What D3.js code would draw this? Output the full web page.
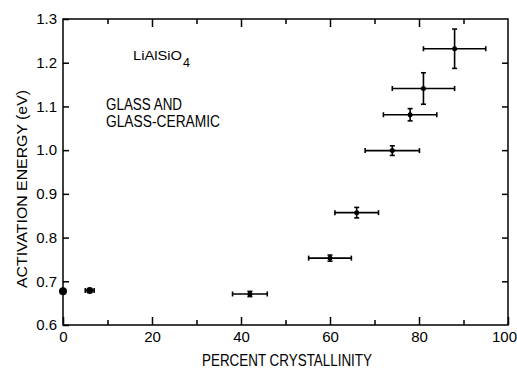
<!DOCTYPE html>
<html>
<head>
<meta charset="utf-8">
<script src="https://cdn.jsdelivr.net/npm/d3@7"></script>
<style>
    body { margin: 0; background: #fff; }
    svg text { font-family: "Liberation Sans", Arial, sans-serif; fill: #000; }
    .axis path { display: none; }
    .axis line { stroke: #000; stroke-width: 1.5; }
    .axis text { font-size: 15px; font-family: "Liberation Sans", Arial, sans-serif; }
</style>
</head>
<body>
<div id="chart"></div>
<script>
// data
let crystallinity = [0, 6, 42, 60, 66, 74, 78, 81, 88];
let energy = [0.677, 0.679, 0.671, 0.753, 0.857, 0.999, 1.081, 1.141, 1.232];
let xErr = [0, 1, 3.9, 4.8, 4.9, 6.1, 6, 7, 7];
let yErr = [0, 0.004, 0.006, 0.007, 0.012, 0.011, 0.014, 0.036, 0.045];

let xMajor = [0, 20, 40, 60, 80, 100];
let xMinor = [10, 30, 50, 70, 90];
let yTicks = [0.6, 0.7, 0.8, 0.9, 1.0, 1.1, 1.2, 1.3];

let points = crystallinity.map((c, i) => ({x: c, y: energy[i], ex: xErr[i], ey: yErr[i]}));

let margin = {top: 19, right: 9, bottom: 45, left: 63};
let W = 517, H = 370;
let width = W - margin.left - margin.right;
let height = H - margin.top - margin.bottom;

let svg = d3.select("#chart").append("svg")
    .attr("width", W)
    .attr("height", H);

let g = svg.append("g")
    .attr("transform", `translate(${margin.left}, ${margin.top})`);

let x = d3.scaleLinear().domain([0, 100]).range([0, width]);
let y = d3.scaleLinear().domain([0.6, 1.3]).range([height, 0]);

// frame
g.append("rect")
    .attr("width", width)
    .attr("height", height)
    .attr("fill", "none")
    .attr("stroke", "#000")
    .attr("stroke-width", 1.5);

// bottom axis, ticks pointing in
let xAxisG = g.append("g").attr("class", "axis")
    .attr("transform", `translate(0, ${height})`)
    .call(d3.axisBottom(x).tickValues(xMajor).tickSize(-8).tickPadding(6).tickFormat(d3.format("d")));
// last label sits on the page edge, pull it in a little
xAxisG.selectAll(".tick text").filter(d => d === 100).attr("dx", -4);

g.append("g").attr("class", "axis")
    .attr("transform", `translate(0, ${height})`)
    .call(d3.axisBottom(x).tickValues(xMinor).tickSize(-5).tickFormat(""));

// top axis
g.append("g").attr("class", "axis")
    .call(d3.axisTop(x).tickValues(xMajor.slice(1, -1)).tickSize(-8).tickFormat(""));
g.append("g").attr("class", "axis")
    .call(d3.axisTop(x).tickValues(xMinor).tickSize(-5).tickFormat(""));

// left + right axes
g.append("g").attr("class", "axis")
    .call(d3.axisLeft(y).tickValues(yTicks).tickSize(-6).tickPadding(6).tickFormat(d3.format(".1f")));
g.append("g").attr("class", "axis")
    .attr("transform", `translate(${width}, 0)`)
    .call(d3.axisRight(y).tickValues(yTicks.slice(1, -1)).tickSize(-6).tickFormat(""));

// error bars
let bars = g.append("g").attr("class", "errorbars")
    .attr("stroke", "#000")
    .attr("stroke-width", 1.6)
    .selectAll("g")
    .data(points.filter(d => d.ex > 0))
    .enter().append("g");

bars.append("line")
    .attr("x1", d => x(d.x - d.ex)).attr("x2", d => x(d.x + d.ex))
    .attr("y1", d => y(d.y)).attr("y2", d => y(d.y));
bars.append("line")
    .attr("x1", d => x(d.x)).attr("x2", d => x(d.x))
    .attr("y1", d => y(d.y - d.ey)).attr("y2", d => y(d.y + d.ey));

let cap = 2.5;
bars.selectAll(".hcap")
    .data(d => [d.x - d.ex, d.x + d.ex].map(v => ({v: v, y: d.y})))
    .enter().append("line")
    .attr("x1", d => x(d.v)).attr("x2", d => x(d.v))
    .attr("y1", d => y(d.y) - cap).attr("y2", d => y(d.y) + cap);
bars.selectAll(".vcap")
    .data(d => [d.y - d.ey, d.y + d.ey].map(v => ({v: v, x: d.x})))
    .enter().append("line")
    .attr("x1", d => x(d.x) - cap).attr("x2", d => x(d.x) + cap)
    .attr("y1", d => y(d.v)).attr("y2", d => y(d.v));

// markers
g.selectAll(".dot")
    .data(points)
    .enter().append("circle")
    .attr("class", "dot")
    .attr("cx", d => x(d.x))
    .attr("cy", d => y(d.y))
    .attr("r", (d, i) => i === 0 ? 4 : (i === 1 ? 3.5 : 2.5))
    .attr("fill", "#000");

// annotations (widths forced to match the condensed typeface of the original)
let formula = svg.append("text")
    .attr("x", 133)
    .attr("y", 60)
    .style("font-size", "12.5px");
formula.append("tspan").attr("textLength", 49).attr("lengthAdjust", "spacingAndGlyphs").text("LiAlSiO");
formula.append("tspan").attr("x", 183).attr("dy", 7).text("4");

svg.append("text")
    .attr("x", 106)
    .attr("y", 110)
    .attr("textLength", 76)
    .attr("lengthAdjust", "spacingAndGlyphs")
    .style("font-size", "16px")
    .text("GLASS AND");
svg.append("text")
    .attr("x", 106)
    .attr("y", 127)
    .attr("textLength", 114)
    .attr("lengthAdjust", "spacingAndGlyphs")
    .style("font-size", "16px")
    .text("GLASS-CERAMIC");

// axis titles
svg.append("text")
    .attr("x", 202)
    .attr("y", 366)
    .attr("textLength", 170)
    .attr("lengthAdjust", "spacingAndGlyphs")
    .style("font-size", "16.5px")
    .text("PERCENT CRYSTALLINITY");

svg.append("text")
    .attr("transform", `translate(27, 288) rotate(-90)`)
    .attr("textLength", 198)
    .attr("lengthAdjust", "spacingAndGlyphs")
    .style("font-size", "15px")
    .text("ACTIVATION ENERGY (eV)");
</script>
</body>
</html>
